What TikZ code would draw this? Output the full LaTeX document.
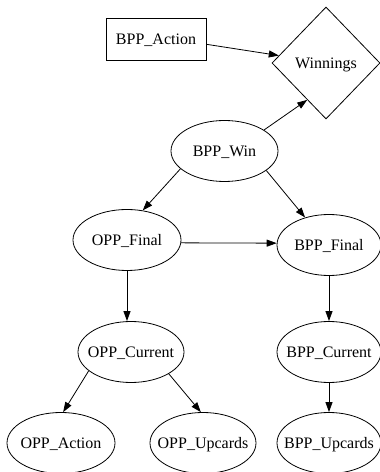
\documentclass[tikz,border=0pt]{standalone}
\usepackage{fontspec}
\setmainfont{Liberation Serif}
\usetikzlibrary{shapes.geometric,arrows.meta}

% label set without size, so that the shape keeps its given dimensions
\newcommand\lbl[1]{\makebox[0pt]{\raisebox{-0.33em}[0pt][0pt]{#1}}}

\begin{document}
\begin{tikzpicture}[x=1pt,y=1pt,
  every node/.style={font=\fontsize{16}{19}\selectfont, inner sep=0pt, draw, line width=0.8pt},
  chance/.style={ellipse, minimum height=61pt},
  decision/.style={rectangle, minimum width=100pt, minimum height=42pt},
  utility/.style={diamond, aspect=1, minimum width=108pt, minimum height=112pt},
  link/.style={line width=0.8pt, -{Triangle[length=10pt,width=7pt]}}
]
\useasboundingbox (0,0) rectangle (380,472);

% nodes
\node[decision] (act)  at (156,433) {\lbl{BPP\_Action}};
\node[utility]  (win)  at (326,409) {\lbl{Winnings}};
\node[chance, minimum width=107pt] (bwin) at (224.5,321) {\lbl{BPP\_Win}};
\node[chance, minimum width=108pt] (ofin) at (127,232) {\lbl{OPP\_Final}};
\node[chance, minimum width=104pt] (bfin) at (329,227) {\lbl{BPP\_Final}};
\node[chance, minimum width=106pt] (ocur) at (131,120) {\lbl{OPP\_Current}};
\node[chance, minimum width=104pt] (bcur) at (329,120) {\lbl{BPP\_Current}};
\node[chance, minimum width=108pt] (oact) at (61,29)   {\lbl{OPP\_Action}};
\node[chance, minimum width=106pt] (oup)  at (203,29)  {\lbl{OPP\_Upcards}};
\node[chance, minimum width=104pt] (bup)  at (329,29)  {\lbl{BPP\_Upcards}};

% arcs
\draw[link] (act.-6)   -- (win.171);
\draw[link] (bwin.28)  -- (win.243);
\draw[link] (bwin.202) -- (ofin.62);
\draw[link] (bwin.-25) -- (bfin.131);
\draw[link] (ofin.-3)  -- (bfin.178);
\draw[link] (ofin.south) -- (ofin.south |- ocur.north);
\draw[link] (bfin.south) -- (bcur.north);
\draw[link] (ocur.204) -- (oact.86);
\draw[link] (ocur.-30) -- (oup.94);
\draw[link] (bcur.south) -- (bup.north);
\end{tikzpicture}
\end{document}
